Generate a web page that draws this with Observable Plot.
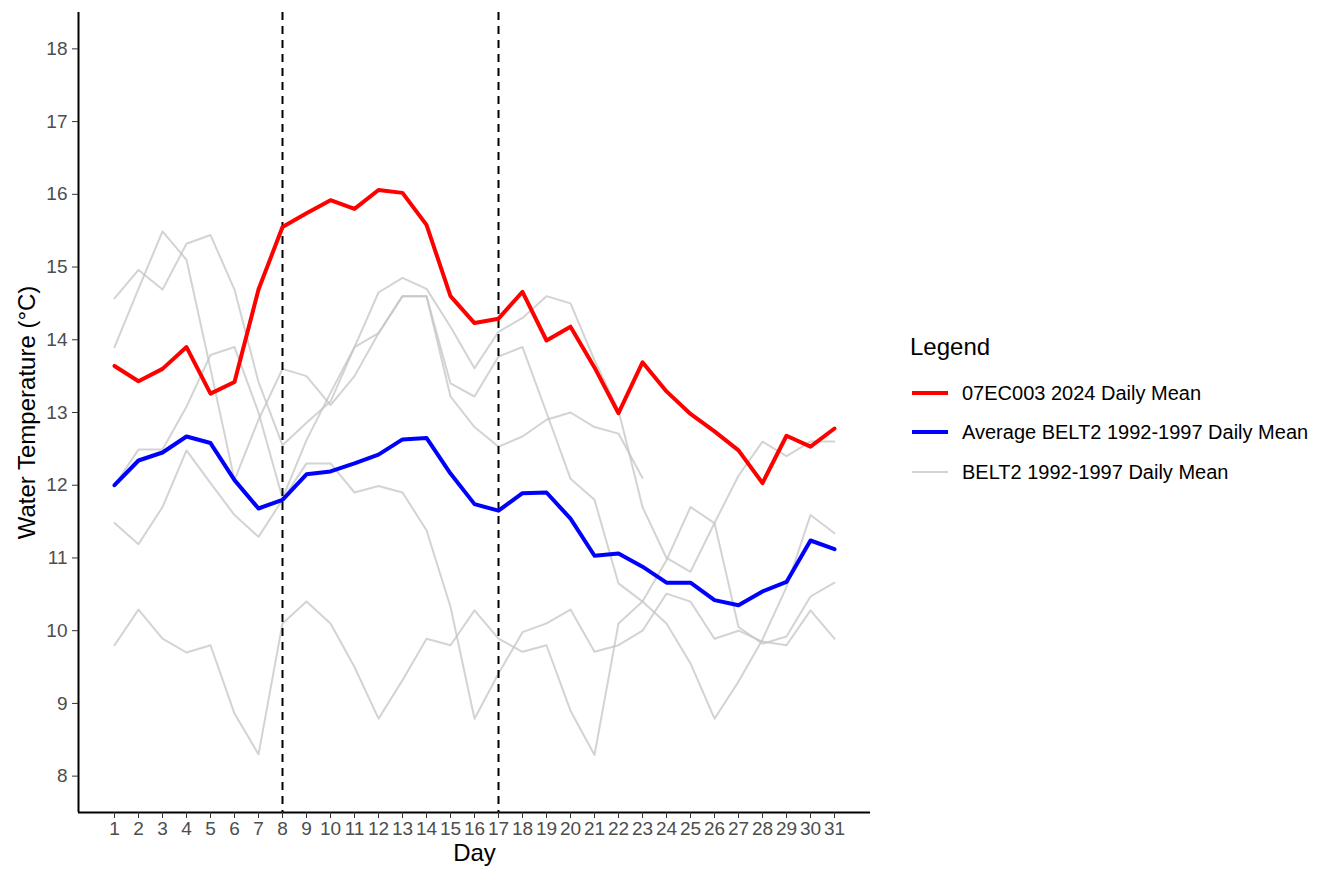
<!DOCTYPE html>
<html>
<head>
<meta charset="utf-8">
<script src="https://cdn.jsdelivr.net/npm/d3@7"></script>
<script src="https://cdn.jsdelivr.net/npm/@observablehq/plot@0.6"></script>
<style>
  body { margin: 0; background: #fff; font-family: "Liberation Sans", Arial, Helvetica, sans-serif; }
  #wrap { position: relative; width: 1330px; height: 873px; overflow: hidden; }
  #chart { position: absolute; left: 0; top: 0; }
  .lg-title { position: absolute; left: 910px; font-size: 24px; color: #000; line-height: 1; }
  .lg-item { position: absolute; left: 912px; height: 30px; display: flex; align-items: center; }
  .lg-item span { font-size: 20px; color: #000; margin-left: 14px; white-space: nowrap; }
</style>
</head>
<body>
<div id="wrap"><div id="chart"></div><div id="legend"></div></div>
<script>
// ---- data ----
const days = [1,2,3,4,5,6,7,8,9,10,11,12,13,14,15,16,17,18,19,20,21,22,23,24,25,26,27,28,29,30,31];

const mean2024 = [13.64,13.43,13.60,13.90,13.26,13.42,14.69,15.55,15.74,15.92,15.80,16.06,16.02,15.58,14.60,14.23,14.29,14.66,13.99,14.18,13.62,12.99,13.69,13.29,12.98,12.74,12.48,12.03,12.68,12.53,12.78];

const meanBelt2 = [12.00,12.34,12.45,12.67,12.58,12.07,11.68,11.80,12.15,12.19,12.30,12.42,12.63,12.65,12.16,11.74,11.65,11.89,11.90,11.54,11.03,11.06,10.88,10.66,10.66,10.42,10.35,10.54,10.67,11.24,11.12];

const belt2A = [14.57,14.96,14.69,15.32,15.44,14.69,13.42,12.55,12.86,13.15,13.90,14.09,14.60,14.60,13.40,13.22,13.77,13.90,13.00,12.09,11.80,10.65,10.40,10.10,9.55,8.79,9.30,9.88,10.60,11.59,11.34];
const belt2B = [13.90,14.70,15.49,15.10,13.60,12.07,12.90,13.60,13.50,13.10,13.50,14.09,14.60,14.60,13.22,12.80,12.53,12.67,12.90,13.00,12.80,12.71,12.10,null,null,null,null,null,null,null,null];
const belt2C = [12.00,12.49,12.49,13.08,13.79,13.90,13.00,11.82,12.62,13.27,13.90,14.65,14.85,14.70,14.18,13.61,14.11,14.30,14.60,14.50,13.72,13.03,11.70,11.00,10.81,11.48,12.13,12.60,12.40,12.60,12.60];
const belt2D = [11.48,11.19,11.70,12.48,12.03,11.59,11.29,11.80,12.30,12.30,11.90,11.99,11.90,11.38,10.33,8.79,9.41,9.98,10.10,10.29,9.71,9.80,10.00,10.51,10.40,9.89,10.00,9.85,9.80,10.28,9.89];
const belt2E = [9.80,10.29,9.89,9.70,9.80,8.86,8.30,10.10,10.40,10.10,9.50,8.79,9.32,9.89,9.80,10.28,9.89,9.71,9.80,8.90,8.29,10.10,10.40,10.97,11.70,11.48,10.05,9.82,9.92,10.47,10.66];

const yTicks = [8,9,10,11,12,13,14,15,16,17,18];
const markerDays = [8, 17];
const legendTitle = "Legend";
const legendLabels = ["07EC003 2024 Daily Mean", "Average BELT2 1992-1997 Daily Mean", "BELT2 1992-1997 Daily Mean"];
const xTitle = "Day";
const yTitle = "Water Temperature (°C)";

// ---- build tables ----
const grayRuns = {A: belt2A, B: belt2B, C: belt2C, D: belt2D, E: belt2E};
const grayData = Object.entries(grayRuns).flatMap(([k, vals]) =>
  days.map((d, i) => ({day: d, temp: vals[i], run: k})));
const redData = days.map((d, i) => ({day: d, temp: mean2024[i]}));
const blueData = days.map((d, i) => ({day: d, temp: meanBelt2[i]}));

const RED = "#ff0000", BLUE = "#0000ff", GRAY = "#c4c4c4";

const chart = Plot.plot({
  width: 880,
  height: 873,
  marginLeft: 78,
  marginRight: 10,
  marginTop: 12,
  marginBottom: 61,
  style: {fontFamily: '"Liberation Sans", Arial, Helvetica, sans-serif', background: "#fff"},
  x: {domain: [-0.5, 32.5]},
  y: {domain: [7.5, 18.5]},
  marks: [
    Plot.line(grayData, {x: "day", y: "temp", z: "run", stroke: GRAY, strokeOpacity: 0.75, strokeWidth: 2}),
    Plot.ruleX(markerDays, {stroke: "#000", strokeWidth: 2, strokeDasharray: "8,6"}),
    Plot.line(redData, {x: "day", y: "temp", stroke: RED, strokeWidth: 4}),
    Plot.line(blueData, {x: "day", y: "temp", stroke: BLUE, strokeWidth: 4}),
    Plot.ruleX([-0.5], {stroke: "#000", strokeWidth: 2}),
    Plot.ruleY([7.5], {stroke: "#000", strokeWidth: 2}),
    Plot.axisX({ticks: days, tickFormat: d => String(d), tickSize: 6, tickPadding: 3, fontSize: 19,
      stroke: "#333", fill: "#4d4d4d", label: null}),
    Plot.axisY({ticks: yTicks, tickFormat: d => String(d), tickSize: 6, tickPadding: 5, fontSize: 19,
      stroke: "#333", fill: "#4d4d4d", label: null}),
    Plot.text([xTitle], {frameAnchor: "bottom", textAnchor: "middle", dy: 48, fontSize: 24, fill: "#000"}),
    Plot.text([yTitle], {frameAnchor: "left", textAnchor: "middle", dx: -51, rotate: -90, fontSize: 24, fill: "#000"})
  ]
});
document.getElementById("chart").appendChild(chart);

// ---- legend ----
const lg = document.getElementById("legend");
const t = document.createElement("div");
t.className = "lg-title";
t.textContent = legendTitle;
t.style.top = "335px";
lg.appendChild(t);
const swatches = [
  {color: RED, w: 4, op: 1},
  {color: BLUE, w: 4, op: 1},
  {color: GRAY, w: 2, op: 0.75}
];
const centers = [393, 432, 472];
legendLabels.forEach((lab, i) => {
  const it = document.createElement("div");
  it.className = "lg-item";
  it.style.top = (centers[i] - 15) + "px";
  const s = swatches[i];
  it.innerHTML = `<svg width="36" height="30"><line x1="0" x2="36" y1="15" y2="15" stroke="${s.color}" stroke-width="${s.w}" stroke-opacity="${s.op}"/></svg><span>${lab}</span>`;
  lg.appendChild(it);
});
</script>
</body>
</html>
